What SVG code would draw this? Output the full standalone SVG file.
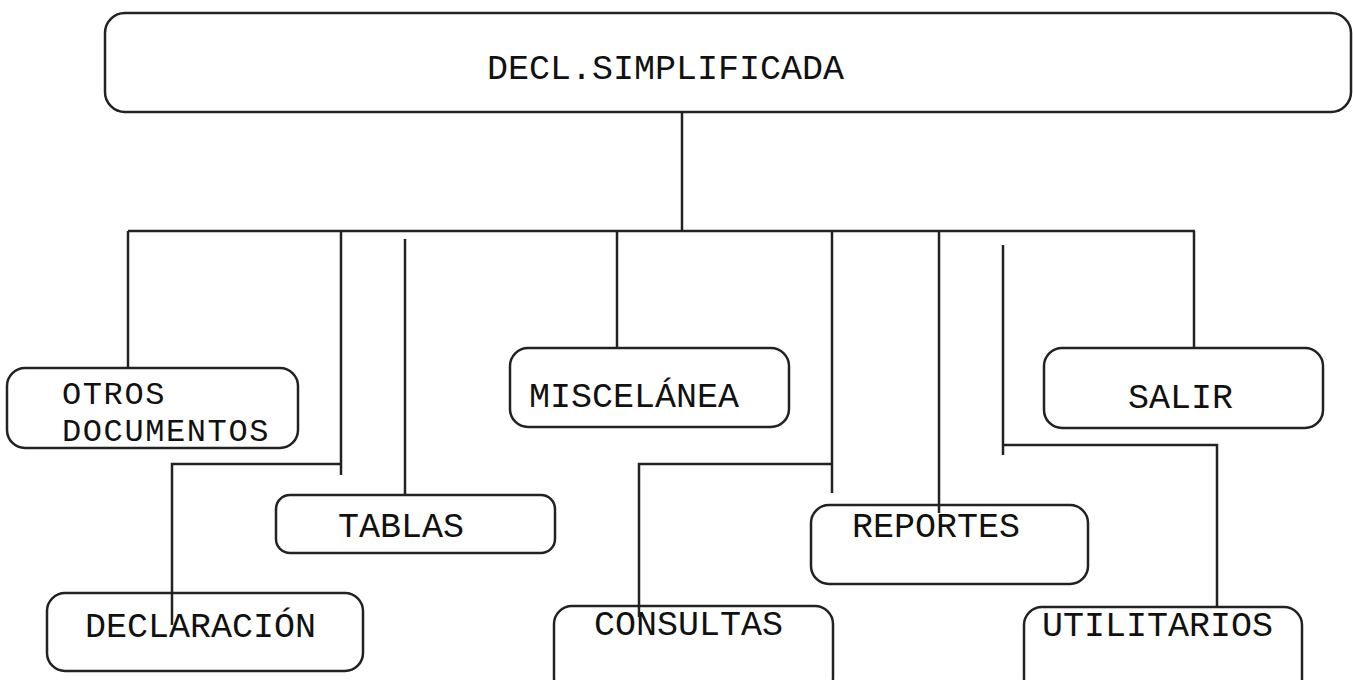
<svg xmlns="http://www.w3.org/2000/svg" width="1353" height="680" viewBox="0 0 1353 680">
<style>
.box{fill:#fff;stroke:#222;stroke-width:2.5}
.ln{fill:none;stroke:#222;stroke-width:2.5}
.t{font-family:"Liberation Mono","Courier New",monospace;font-size:35px;fill:#111}
.s{font-size:32px;letter-spacing:1.6px}
</style>
<rect width="1353" height="680" fill="#fff"/>
<g id="nodes">
<g id="n-root"><rect class="box" x="105" y="13" width="1246" height="99" rx="20"/><text class="t" x="487" y="79">DECL.SIMPLIFICADA</text></g>
<g id="n-otros"><rect class="box" x="7" y="368" width="291" height="80" rx="18"/><text class="t s" x="62" y="404">OTROS</text><text class="t s" x="62" y="441">DOCUMENTOS</text></g>
<g id="n-misc"><rect class="box" x="510" y="348" width="279" height="79" rx="18"/><text class="t" x="529" y="407">MISCELÁNEA</text></g>
<g id="n-salir"><rect class="box" x="1044" y="348" width="279" height="80" rx="18"/><text class="t" x="1128" y="408">SALIR</text></g>
<g id="n-tablas"><rect class="box" x="276" y="495" width="279" height="58" rx="14"/><text class="t" x="338" y="537">TABLAS</text></g>
<g id="n-reportes"><rect class="box" x="811" y="505" width="277" height="79" rx="18"/><text class="t" x="852" y="537">REPORTES</text></g>
<g id="n-declaracion"><rect class="box" x="47" y="593" width="316" height="78" rx="18"/><text class="t" x="85" y="637">DECLARACIÓN</text></g>
<g id="n-consultas"><rect class="box" x="554" y="606" width="279" height="90" rx="18"/><text class="t" x="594" y="635">CONSULTAS</text></g>
<g id="n-utilitarios"><rect class="box" x="1024" y="607" width="278" height="90" rx="18"/><text class="t" x="1042" y="636">UTILITARIOS</text></g>
</g>
<g id="connectors">
<path class="ln" d="M682 112V231"/>
<path class="ln" d="M128 231H1195"/>
<path class="ln" d="M128 231V368"/>
<path class="ln" d="M341 231V475M341 464H172V625"/>
<path class="ln" d="M405 239V495"/>
<path class="ln" d="M617 231V348"/>
<path class="ln" d="M832 231V493M832 464H639V617"/>
<path class="ln" d="M939 231V513"/>
<path class="ln" d="M1003 245V455M1003 445H1217V607"/>
<path class="ln" d="M1194 231V348"/>
</g>
</svg>
